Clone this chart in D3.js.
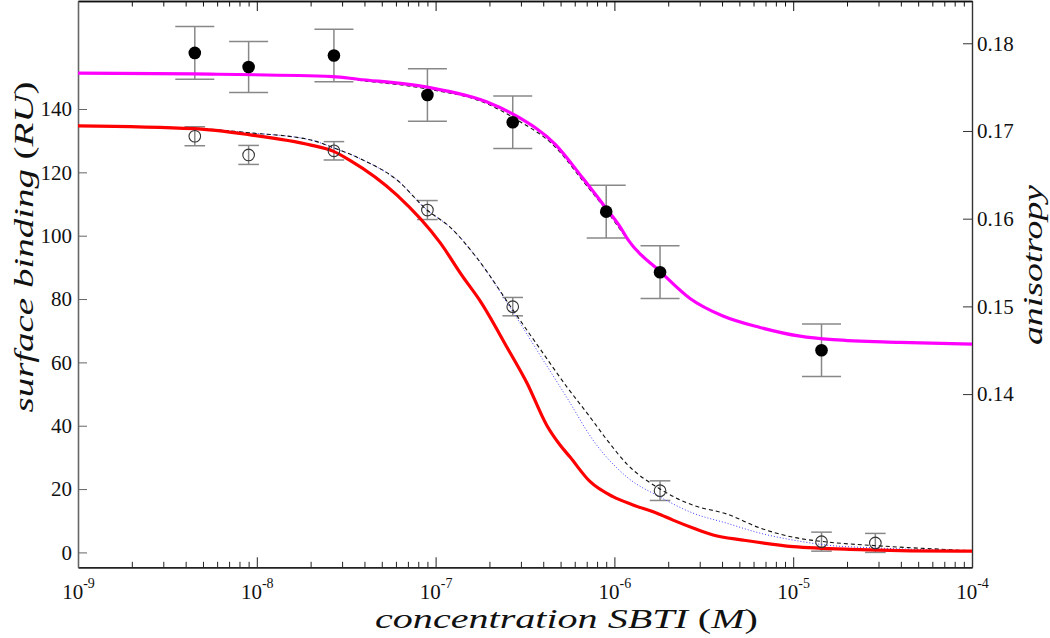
<!DOCTYPE html>
<html>
<head>
<meta charset="utf-8">
<script src="https://cdn.jsdelivr.net/npm/d3@7"></script>
<style>
  html, body { margin: 0; padding: 0; background: #fff; }
  svg { display: block; }
</style>
</head>
<body>
<svg id="chart" width="1050" height="638"></svg>
<script>
// ---------- data ----------
// filled circles: anisotropy (right axis)
const fillConc  = [4.5e-9, 9e-9, 2.7e-8, 9e-8, 2.7e-7, 9e-7, 1.8e-6, 1.44e-5];
const fillAniso = [0.1789, 0.1773, 0.1786, 0.1741, 0.1710, 0.1608, 0.1539, 0.1450];
const fillErr   = [0.0030, 0.0029, 0.0030, 0.0030, 0.0030, 0.0030, 0.0030, 0.0030];

// open circles: surface binding (left axis)
const openConc = [4.5e-9, 9e-9, 2.7e-8, 9e-8, 2.7e-7, 1.8e-6, 1.44e-5, 2.88e-5];
const openRU   = [131.4, 125.5, 126.8, 108.1, 77.6, 19.5, 3.4, 3.0];
const openErr  = [3.0, 3.0, 2.9, 3.0, 2.9, 3.1, 3.0, 3.0];

// magenta fit (anisotropy), log10 concentration
const magentaLogC = [-9.000,-8.351,-7.574,-7.434,-7.048,-6.712,-6.539,-6.332,-6.176,-6.047,-5.969,-5.924,-5.745,-5.577,-5.393,-5.186,-4.962,-4.777,-4.403,-4.000];
const magentaVal  = [0.1766,0.1765,0.1762,0.1759,0.1750,0.1733,0.1716,0.1685,0.1646,0.1612,0.1591,0.1576,0.1540,0.1509,0.1489,0.1476,0.1466,0.1462,0.1459,0.1457];

// black dashed fit (anisotropy)
const dashFillLogC = [-9.000,-8.351,-7.574,-7.434,-7.048,-6.712,-6.539,-6.332,-6.176,-6.047,-5.924,-5.745,-5.577,-5.393,-5.186,-4.962,-4.777,-4.403,-4.000];
const dashFillVal  = [0.1766,0.1765,0.1762,0.1758,0.1748,0.1731,0.1712,0.1682,0.1643,0.1610,0.1576,0.1540,0.1509,0.1489,0.1476,0.1466,0.1462,0.1459,0.1457];

// red curve (surface binding)
const redLogC = [-9.000,-8.351,-8.044,-7.697,-7.574,-7.479,-7.216,-6.975,-6.847,-6.752,-6.601,-6.489,-6.377,-6.304,-6.248,-6.137,-6.008,-5.896,-5.762,-5.672,-5.560,-5.448,-5.281,-5.001,-4.626,-4.067,-4.000];
const redVal  = [134.7,133.8,131.9,128.6,126.7,123.8,112.8,97.8,87.0,79.5,64.8,53.5,40.0,33.9,30.1,22.4,17.6,15.0,12.4,10.2,7.7,5.5,3.9,1.8,0.9,0.4,0.4];

// black dashed fit (surface binding)
const dashOpenLogC = [-9.000,-8.351,-8.044,-7.697,-7.568,-7.406,-7.216,-7.048,-6.919,-6.768,-6.567,-6.399,-6.265,-6.153,-6.041,-5.930,-5.745,-5.560,-5.370,-5.186,-5.001,-4.811,-4.531,-4.067,-4.000];
const dashOpenVal  = [134.7,133.9,132.5,130.2,127.7,123.9,117.6,108.1,102.7,92.9,76.5,62.9,52.2,44.0,35.5,27.9,20.0,14.9,12.1,7.7,4.8,3.3,2.1,0.7,0.5];

// blue dotted fit (surface binding)
const dotLogC = [-9.000,-8.351,-8.044,-7.697,-7.568,-7.406,-7.216,-7.048,-6.919,-6.768,-6.567,-6.416,-6.265,-6.120,-5.930,-5.745,-5.560,-5.370,-5.186,-5.001,-4.811,-4.531,-4.067,-4.000];
const dotVal  = [134.7,133.9,132.5,130.2,127.7,123.9,117.6,108.1,102.7,92.9,75.9,62.3,48.8,35.5,23.8,17.5,12.4,9.2,6.1,3.9,2.3,1.4,0.6,0.5];

// ticks
const xMajorTicks = [1e-9, 1e-8, 1e-7, 1e-6, 1e-5, 1e-4];
const leftTicks  = [0, 20, 40, 60, 80, 100, 120, 140];
const rightTicks = [0.14, 0.15, 0.16, 0.17, 0.18];

// ---------- layout ----------
const FONT = "Liberation Serif";
const L = 78, R = 972, T = 1, B = 567.3;
const svg = d3.select("#chart").attr("font-family", FONT);

const x  = d3.scaleLog().domain([1e-9, 1e-4]).range([L, R]);
const yL = d3.scaleLinear().domain([-4.7, 174.1]).range([B, T]);
const yR = d3.scaleLinear().domain([0.12025, 0.18482]).range([B, T]);

const xMinorTicks = [];
for (let e = -9; e < -4; e++) for (let m = 2; m <= 9; m++) xMinorTicks.push(m * Math.pow(10, e));

// ---------- axes ----------
function styleAxis(g, color, width) {
  g.attr("font-family", FONT);
  g.select(".domain").attr("stroke", color).attr("stroke-width", width).attr("fill", "none");
  g.selectAll(".tick line").attr("stroke", color).attr("stroke-width", 1);
  g.selectAll(".tick text").attr("font-family", FONT);
}

// bottom
const gB = svg.append("g").attr("transform", `translate(0,${B})`);
gB.call(d3.axisBottom(x).tickValues(xMinorTicks).tickSize(-5.5).tickSizeOuter(0).tickFormat(""));
styleAxis(gB, "#222", 1.5);
const gB2 = svg.append("g").attr("transform", `translate(0,${B})`);
gB2.call(d3.axisBottom(x).tickValues(xMajorTicks).tickSize(-10).tickSizeOuter(0));
styleAxis(gB2, "#222", 1.5);
gB2.selectAll(".tick text").each(function(d) {
  const t = d3.select(this);
  t.text(null).attr("y", 32).attr("dy", 0).attr("font-size", 21).attr("fill", "#111")
   .attr("text-anchor", "middle");
  t.append("tspan").text("10");
  t.append("tspan").attr("dy", -11).attr("font-size", 14).text(String(Math.round(Math.log10(d))));
});

// top
const gT = svg.append("g").attr("transform", `translate(0,${T})`);
gT.call(d3.axisTop(x).tickValues(xMinorTicks).tickSize(-5.5).tickSizeOuter(0).tickFormat(""));
styleAxis(gT, "#111", 1.5);
const gT2 = svg.append("g").attr("transform", `translate(0,${T})`);
gT2.call(d3.axisTop(x).tickValues(xMajorTicks).tickSize(-10).tickSizeOuter(0).tickFormat(""));
styleAxis(gT2, "#111", 1.5);

// left
const gL = svg.append("g").attr("transform", `translate(${L},0)`);
gL.call(d3.axisLeft(yL).tickValues(leftTicks).tickSize(-9).tickSizeOuter(0));
styleAxis(gL, "#666", 1.6);
gL.selectAll(".tick text").attr("x", -6).attr("font-size", 21).attr("fill", "#111");

// right
const gR = svg.append("g").attr("transform", `translate(${R},0)`);
gR.call(d3.axisRight(yR).tickValues(rightTicks).tickSize(-9).tickSizeOuter(0).tickFormat(d3.format(".2f")));
styleAxis(gR, "#333", 1.4);
gR.selectAll(".tick text").attr("x", 5).attr("font-size", 21).attr("fill", "#111");

// ---------- error bars ----------
const eb = svg.append("g").attr("stroke", "#888").attr("stroke-width", 1.5).attr("fill", "none");
fillConc.forEach((c, i) => {
  const cx = x(c), y1 = yR(fillAniso[i] + fillErr[i]), y2 = yR(fillAniso[i] - fillErr[i]), w = 19.5;
  eb.append("line").attr("x1", cx).attr("x2", cx).attr("y1", y1).attr("y2", y2);
  eb.append("line").attr("x1", cx - w).attr("x2", cx + w).attr("y1", y1).attr("y2", y1);
  eb.append("line").attr("x1", cx - w).attr("x2", cx + w).attr("y1", y2).attr("y2", y2);
});
openConc.forEach((c, i) => {
  const cx = x(c), y1 = yL(openRU[i] + openErr[i]), y2 = yL(openRU[i] - openErr[i]), w = 10.3;
  eb.append("line").attr("x1", cx).attr("x2", cx).attr("y1", y1).attr("y2", y2);
  eb.append("line").attr("x1", cx - w).attr("x2", cx + w).attr("y1", y1).attr("y2", y1);
  eb.append("line").attr("x1", cx - w).attr("x2", cx + w).attr("y1", y2).attr("y2", y2);
});

// ---------- curves ----------
function drawCurve(logc, vals, yScale, attrs) {
  const pts = logc.map((lc, i) => [x(Math.pow(10, lc)), yScale(vals[i])]);
  const p = svg.append("path").attr("d", d3.line().curve(d3.curveMonotoneX)(pts)).attr("fill", "none");
  Object.entries(attrs).forEach(([k, v]) => p.attr(k, v));
}
drawCurve(dotLogC, dotVal, yL, { stroke: "#3f3fff", "stroke-width": 1, "stroke-dasharray": "1,2" });
drawCurve(dashOpenLogC, dashOpenVal, yL, { stroke: "#111", "stroke-width": 1.1, "stroke-dasharray": "4,3" });
drawCurve(redLogC, redVal, yL, { stroke: "#ff0000", "stroke-width": 3.2 });
drawCurve(dashFillLogC, dashFillVal, yR, { stroke: "#111", "stroke-width": 1.1, "stroke-dasharray": "4,3" });
drawCurve(magentaLogC, magentaVal, yR, { stroke: "#ff00ff", "stroke-width": 3.2 });

// ---------- points ----------
svg.append("g").selectAll("circle").data(fillConc).join("circle")
  .attr("cx", d => x(d)).attr("cy", (d, i) => yR(fillAniso[i])).attr("r", 6.3).attr("fill", "#000");
svg.append("g").selectAll("circle").data(openConc).join("circle")
  .attr("cx", d => x(d)).attr("cy", (d, i) => yL(openRU[i])).attr("r", 5.8)
  .attr("fill", "none").attr("stroke", "#333").attr("stroke-width", 1.1);

// ---------- titles ----------
const xt = svg.append("text").attr("x", 375).attr("y", 628).attr("font-size", 27).attr("fill", "#111")
  .attr("font-family", FONT).attr("textLength", 383).attr("lengthAdjust", "spacingAndGlyphs");
xt.append("tspan").attr("font-style", "italic").text("concentration SBTI  ");
xt.append("tspan").text("(");
xt.append("tspan").attr("font-style", "italic").text("M");
xt.append("tspan").text(")");

const yt = svg.append("text").attr("transform", "translate(33,247) rotate(-90)").attr("text-anchor", "middle")
  .attr("font-size", 28).attr("fill", "#111").attr("font-family", FONT)
  .attr("textLength", 331).attr("lengthAdjust", "spacingAndGlyphs");
yt.append("tspan").attr("font-style", "italic").text("surface binding  ");
yt.append("tspan").text("(");
yt.append("tspan").attr("font-style", "italic").text("RU");
yt.append("tspan").text(")");

svg.append("text").attr("transform", "translate(1042,265) rotate(-90)").attr("text-anchor", "middle")
  .attr("font-size", 28).attr("font-style", "italic").attr("fill", "#111").attr("font-family", FONT)
  .attr("textLength", 160).attr("lengthAdjust", "spacingAndGlyphs").text("anisotropy");
</script>
</body>
</html>
